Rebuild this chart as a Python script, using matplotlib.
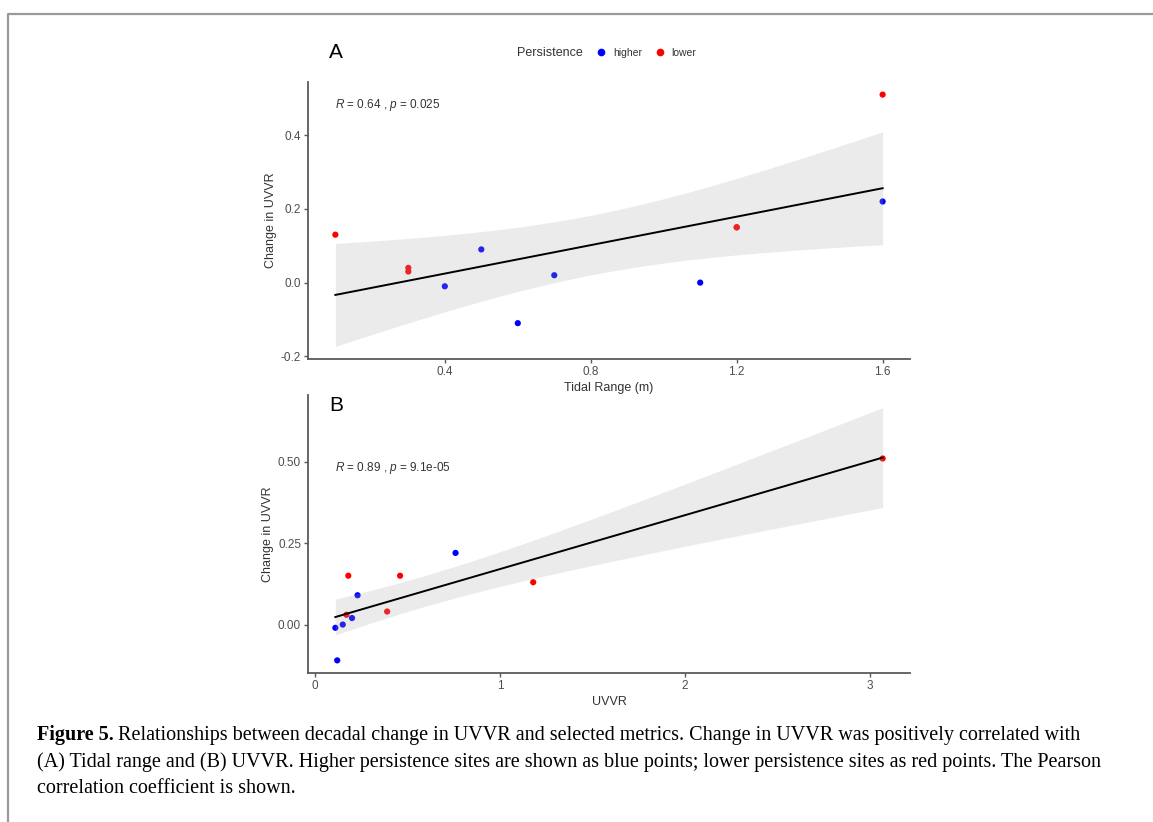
import numpy as np
import matplotlib
matplotlib.use('Agg')
import matplotlib.pyplot as plt
from matplotlib.lines import Line2D

plt.rcParams['font.family'] = ['Liberation Sans', 'DejaVu Sans']
plt.rcParams['mathtext.fontset'] = 'custom'
plt.rcParams['mathtext.it'] = 'Liberation Sans:italic'
plt.rcParams['mathtext.rm'] = 'Liberation Sans'

# panel A: tidal range vs decadal change in UVVR
tidal_range = [0.1, 0.3, 0.3, 0.4, 0.5, 0.6, 0.7, 1.1, 1.2, 1.2, 1.6, 1.6]
change_a = [0.13, 0.04, 0.03, -0.01, 0.09, -0.11, 0.02, 0.00, 0.15, 0.15, 0.51, 0.22]
persist_a = ['lower', 'lower', 'lower', 'higher', 'higher', 'higher',
             'higher', 'higher', 'lower', 'lower', 'lower', 'higher']

# panel B: UVVR vs decadal change in UVVR
uvvr = [0.11, 0.12, 0.15, 0.17, 0.18, 0.20, 0.23, 0.39, 0.46, 0.76, 1.18, 3.07]
change_b = [-0.01, -0.11, 0.00, 0.03, 0.15, 0.02, 0.09, 0.04, 0.15, 0.22, 0.13, 0.51]
persist_b = ['higher', 'higher', 'higher', 'lower', 'lower', 'higher',
             'higher', 'lower', 'lower', 'higher', 'lower', 'lower']

stats_a = '$R$ = 0.64 , $p$ = 0.025'
stats_b = '$R$ = 0.89 , $p$ = 9.1e-05'

xticks_a = [0.4, 0.8, 1.2, 1.6]
xlabels_a = ['0.4', '0.8', '1.2', '1.6']
yticks_a = [-0.2, 0.0, 0.2, 0.4]
ylabels_a = ['-0.2', '0.0', '0.2', '0.4']
xticks_b = [0, 1, 2, 3]
xlabels_b = ['0', '1', '2', '3']
yticks_b = [0.0, 0.25, 0.50]
ylabels_b = ['0.00', '0.25', '0.50']

colors = {'higher': '#0000FF', 'lower': '#FF0000'}
T_CRIT = 2.228  # t(0.975, df=10), n = 12 sites

caption_1 = ('Relationships between decadal change in UVVR and selected metrics. '
             'Change in UVVR was positively correlated with')
caption_2 = ('(A) Tidal range and (B) UVVR. Higher persistence sites are shown as blue points; '
             'lower persistence sites as red points. The Pearson')
caption_3 = 'correlation coefficient is shown.'

W, H = 1153, 822


def px_axes(left, top, right, bottom):
    return [left / W, 1 - bottom / H, (right - left) / W, (bottom - top) / H]


def lm_band(x, y):
    x = np.asarray(x, dtype=float)
    y = np.asarray(y, dtype=float)
    n = len(x)
    slope, icpt = np.polyfit(x, y, 1)
    xs = np.linspace(x.min(), x.max(), 80)
    fit = icpt + slope * xs
    resid = y - (icpt + slope * x)
    s = np.sqrt((resid ** 2).sum() / (n - 2))
    se = s * np.sqrt(1 / n + (xs - x.mean()) ** 2 / ((x - x.mean()) ** 2).sum())
    return xs, fit, fit - T_CRIT * se, fit + T_CRIT * se


def panel(ax, x, y, groups, stats, xt, xl, yt, yl, xlabel):
    ax.scatter(x, y, c=[colors[g] for g in groups], s=20, linewidths=0, zorder=2)
    xs, fit, lo, hi = lm_band(x, y)
    ax.fill_between(xs, lo, hi, color='#A8A8A8', alpha=0.22, linewidth=0, zorder=3)
    ax.plot(xs, fit, color='black', lw=1.4, zorder=4)
    ax.set_xticks(xt, xl)
    ax.set_yticks(yt, yl)
    for s in ['top', 'right']:
        ax.spines[s].set_visible(False)
    for s in ['left', 'bottom']:
        ax.spines[s].set_color('#5A5A5A')
        ax.spines[s].set_linewidth(1.3)
    ax.tick_params(length=3, width=1, color='#5A5A5A', labelsize=8.5,
                   labelcolor='#4D4D4D', pad=2)
    ax.set_ylabel('Change in UVVR', fontsize=9, color='#333333', labelpad=3)
    ax.set_xlabel(xlabel, fontsize=9, color='#333333', labelpad=3)
    ax.text(0.045, 0.0, stats, transform=ax.transAxes, fontsize=8.5,
            color='#333333', va='center')
    return ax


fig = plt.figure(figsize=(W / 100, H / 100), dpi=100)

ax_a = fig.add_axes(px_axes(308, 82, 910, 359))
panel(ax_a, tidal_range, change_a, persist_a, stats_a,
      xticks_a, xlabels_a, yticks_a, ylabels_a, 'Tidal Range (m)')
ax_a.texts[-1].set_y((359 - 105) / (359 - 82))

ax_b = fig.add_axes(px_axes(308, 395, 910, 673))
panel(ax_b, uvvr, change_b, persist_b, stats_b,
      xticks_b, xlabels_b, yticks_b, ylabels_b, 'UVVR')
ax_b.texts[-1].set_y((673 - 468) / (673 - 395))

# panel tags
fig.text(329 / W, 1 - 53 / H, 'A', fontsize=15, va='center', ha='left')
fig.text(329 / W, 1 - 405 / H, 'B', fontsize=15, va='center', ha='left')

# legend
fig.text(517 / W, 1 - 53 / H, 'Persistence', fontsize=9, color='#333333', va='center')
handles = [Line2D([], [], marker='o', ls='', color=colors[k], markersize=4.5, label=k)
           for k in ['higher', 'lower']]
fig.legend(handles=handles, loc='center left', bbox_to_anchor=(591 / W, 1 - 53 / H),
           ncol=2, frameon=False, fontsize=7.5, handletextpad=0.6, columnspacing=1.25,
           handlelength=1.0, borderpad=0, labelcolor='#333333')

# page frame (top and left edge)
fig.add_artist(Line2D([8 / W, 8 / W, 1], [0, 1 - 14 / H, 1 - 14 / H],
                      transform=fig.transFigure, color='#9A9A9A', lw=1.6))

# caption
cap_kw = dict(family=['Liberation Serif', 'DejaVu Serif'], fontsize=14.5, va='center')
t0 = fig.text(37 / W, 1 - 735 / H, 'Figure 5.', fontweight='bold', **cap_kw)
fig.canvas.draw()
bb = t0.get_window_extent()
fig.text((bb.x1 + 4) / W, 1 - 735 / H, caption_1, **cap_kw)
fig.text(37 / W, 1 - 762 / H, caption_2, **cap_kw)
fig.text(37 / W, 1 - 788 / H, caption_3, **cap_kw)

fig.savefig('out.png', dpi=100)
